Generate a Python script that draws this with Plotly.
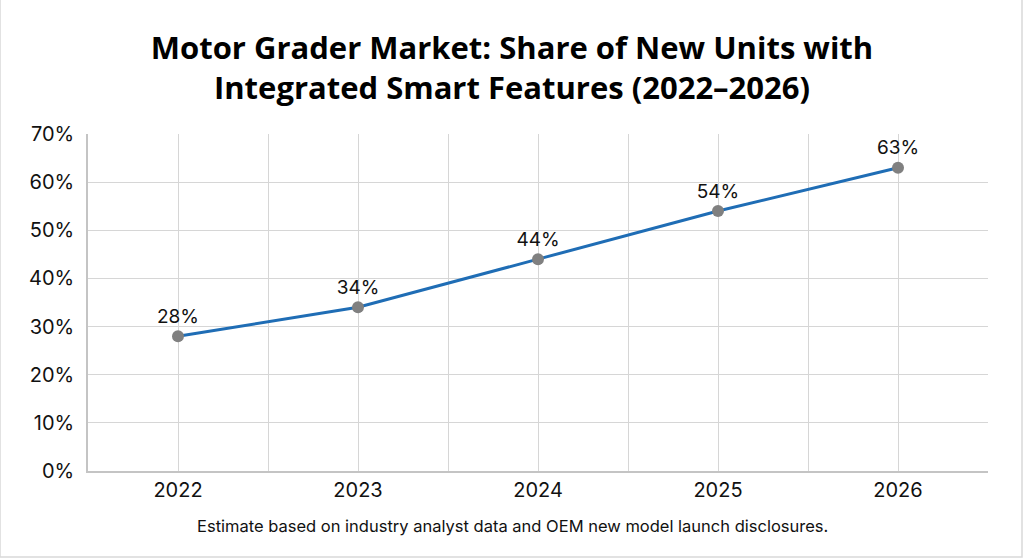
import plotly.graph_objects as go

years = ["2022", "2023", "2024", "2025", "2026"]
share_pct = [28, 34, 44, 54, 63]
label_text = ["28%", "34%", "44%", "54%", "63%"]
y_ticks = [0, 10, 20, 30, 40, 50, 60, 70]
y_tick_text = ["0%", "10%", "20%", "30%", "40%", "50%", "60%", "70%"]

x_pos = list(range(len(years)))

fig = go.Figure()
fig.add_trace(go.Scatter(
    x=x_pos, y=share_pct,
    mode="lines+markers+text",
    line=dict(color="#1f6db5", width=3),
    marker=dict(color="#808080", size=12),
    text=label_text,
    textposition="top center",
    textfont=dict(family="Inter, Roboto, sans-serif", size=19, color="#111111"),
    cliponaxis=False,
    hoverinfo="skip",
))

fig.update_layout(
    width=1024, height=559,
    paper_bgcolor="white", plot_bgcolor="white",
    margin=dict(l=88, r=36, t=134, b=88),
    showlegend=False,
    title=dict(
        text="<b>Motor Grader Market: Share of New Units with<br>Integrated Smart Features (2022–2026)</b>",
        x=0.5, xanchor="center", yref="container", y=1 - 59 / 559, yanchor="middle",
        font=dict(family="Open Sans, Inter, sans-serif", size=31, color="#000000", weight=800),
    ),
    xaxis=dict(
        range=[-0.5, 4.5],
        tickmode="array", tickvals=x_pos, ticktext=years,
        showgrid=True, gridcolor="#d6d6d6", gridwidth=1,
        minor=dict(tickmode="linear", tick0=-0.5, dtick=1, showgrid=True, gridcolor="#d6d6d6", gridwidth=1),
        showline=True, linecolor="#c4c4c4", linewidth=1.5,
        zeroline=False, ticks="",
        tickfont=dict(family="Inter, Roboto, sans-serif", size=20, color="#111111"),
        fixedrange=True,
    ),
    yaxis=dict(
        range=[0, 70],
        tickmode="array", tickvals=y_ticks, ticktext=y_tick_text,
        showgrid=True, gridcolor="#d6d6d6", gridwidth=1,
        showline=True, linecolor="#c4c4c4", linewidth=1.5,
        zeroline=False, ticks="", ticklabelstandoff=8,
        tickfont=dict(family="Inter, Roboto, sans-serif", size=20, color="#111111"),
        fixedrange=True,
    ),
    annotations=[dict(
        text="Estimate based on industry analyst data and OEM new model launch disclosures.",
        xref="paper", yref="paper", x=(512 - 88) / 900, y=-(526 - 471) / 337, xanchor="center", yanchor="middle",
        showarrow=False,
        font=dict(family="Inter, Roboto, sans-serif", size=16.5, color="#111111"),
    )],
    shapes=[dict(
        type="rect", xref="paper", yref="paper",
        x0=-88/900, x1=(1022-88)/900, y0=-(557-471)/337, y1=(471+20)/337,
        line=dict(color="#d9d9d9", width=1.5), fillcolor="rgba(0,0,0,0)", layer="below",
    )],
)

fig.write_html("out.html")
